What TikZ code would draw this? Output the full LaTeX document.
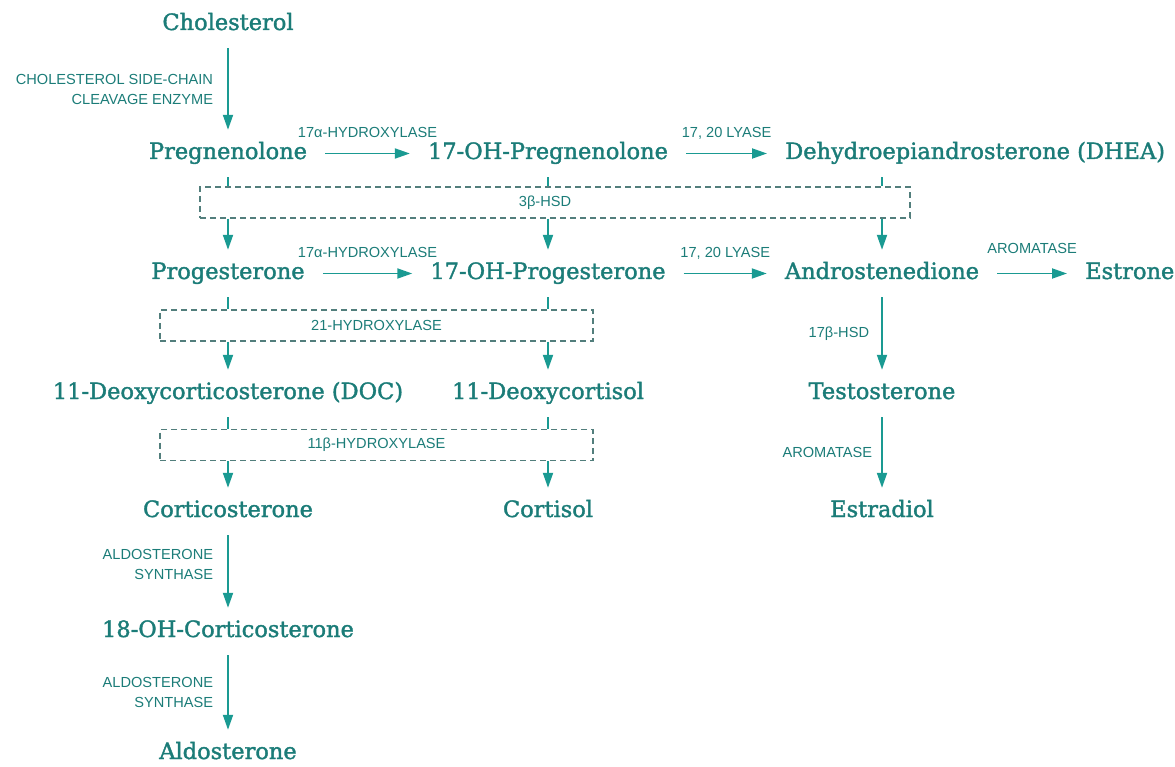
\documentclass[tikz,border=0pt]{standalone}
\usepackage{fontspec}
\setmainfont{DejaVu Serif}[BoldFont={DejaVu Serif}, BoldFeatures={FakeBold=1.6}]
\newfontfamily\labfont{Liberation Sans}
\usetikzlibrary{arrows.meta}
\definecolor{tealtext}{HTML}{1B7C78}
\definecolor{tealarrow}{HTML}{1A9A92}
\definecolor{boxgray}{HTML}{527E7C}
\begin{document}
\begin{tikzpicture}[x=1pt,y=-1pt,
  comp/.style={font=\bfseries\fontsize{22.5}{26}\selectfont, text=tealtext, anchor=base,
    text height=16pt, text depth=5pt, inner ysep=13pt, inner xsep=18pt},
  enz/.style={font=\labfont\fontsize{14.6}{20}\selectfont, text=tealtext, inner sep=0pt},
  conv/.style={draw=tealarrow, line width=1.9pt, -{Triangle[length=15pt,width=10pt]}},
  stub/.style={draw=tealarrow, line width=1.9pt},
  enzbox/.style={draw=boxgray, line width=1.4pt, dash pattern=on 6pt off 4pt,
    inner sep=0pt, minimum height=31pt, font=\labfont\fontsize{14.6}{16}\selectfont, text=tealtext}
]
\useasboundingbox (0,0) rectangle (1175,767);

% compounds
\node[comp] (chol) at (228,30) {Cholesterol};
\node[comp] (preg) at (228,159) {Pregnenolone};
\node[comp] (ohpreg) at (548,159) {17-OH-Pregnenolone};
\node[comp, anchor=base west] (dhea) at (767,159) {Dehydroepiandrosterone (DHEA)};
\node[comp] (prog) at (228,279) {Progesterone};
\node[comp] (ohprog) at (548,279) {17-OH-Progesterone};
\node[comp] (andro) at (882,279) {Androstenedione};
\node[comp, anchor=base west] (estrone) at (1067,279) {Estrone};
\node[comp] (doc) at (228,399) {11-Deoxycorticosterone (DOC)};
\node[comp] (deoxc) at (548,399) {11-Deoxycortisol};
\node[comp] (testo) at (882,399) {Testosterone};
\node[comp] (cortico) at (228,517) {Corticosterone};
\node[comp] (cortisol) at (548,517) {Cortisol};
\node[comp] (estradiol) at (882,517) {Estradiol};
\node[comp] (ohcort) at (228,637) {18-OH-Corticosterone};
\node[comp] (aldo) at (228,759) {Aldosterone};

% enzyme boxes
\node[enzbox, minimum width=710pt] (hsd) at (555,202.5) {};
\node[enz] (hsdlab) at (545,203) {3β-HSD};
\node[enzbox, minimum width=433pt] (hyd21) at (376.5,325.5) {21-HYDROXYLASE};
\node[enzbox, minimum width=433pt] (hyd11) at (376.5,445) {11β-HYDROXYLASE};

% left column
\draw[conv] (chol.south) -- node[enz, left=14pt, align=right] {CHOLESTEROL SIDE-CHAIN\\CLEAVAGE ENZYME} (chol.south |- preg.north);
\draw[stub] (preg.south) -- (preg.south |- hsd.north);
\draw[conv] (hsd.south -| prog.north) -- (prog.north);
\draw[stub] (prog.south) -- (prog.south |- hyd21.north);
\draw[conv] (hyd21.south -| doc.north) -- (doc.north);
\draw[stub] (doc.south) -- (doc.south |- hyd11.north);
\draw[conv] (hyd11.south -| cortico.north) -- (cortico.north);
\draw[conv] (cortico.south) -- node[enz, left=14pt, align=right, pos=0.4] {ALDOSTERONE\\SYNTHASE} (cortico.south |- ohcort.north);
\draw[conv] (ohcort.south) -- node[enz, left=14pt, align=right] {ALDOSTERONE\\SYNTHASE} (ohcort.south |- aldo.north);

% middle column
\draw[stub] (ohpreg.south) -- (ohpreg.south |- hsd.north);
\draw[conv] (hsd.south -| ohprog.north) -- (ohprog.north);
\draw[stub] (ohprog.south) -- (ohprog.south |- hyd21.north);
\draw[conv] (hyd21.south -| deoxc.north) -- (deoxc.north);
\draw[stub] (deoxc.south) -- (deoxc.south |- hyd11.north);
\draw[conv] (hyd11.south -| cortisol.north) -- (cortisol.north);

% right column
\draw[stub] (dhea.south -| andro.north) -- (hsd.north -| andro.north);
\draw[conv] (hsd.south -| andro.north) -- (andro.north);
\draw[conv] (andro.south) -- node[enz, left=12pt] {17β-HSD} (andro.south |- testo.north);
\draw[conv] (testo.south) -- node[enz, left=9pt] {AROMATASE} (testo.south |- estradiol.north);

% horizontal
\draw[conv] (preg.east) -- node[enz, above=15pt, text depth=0pt] {17α-HYDROXYLASE} (ohpreg.west);
\draw[conv] (ohpreg.east) -- node[enz, above=15pt, text depth=0pt] {17, 20 LYASE} (ohpreg.east -| dhea.west);
\draw[conv] (prog.east) -- node[enz, above=15pt, text depth=0pt] {17α-HYDROXYLASE} (ohprog.west);
\draw[conv] (ohprog.east) -- node[enz, above=15pt, text depth=0pt] {17, 20 LYASE} (andro.west);
\draw[conv] (andro.east) -- node[enz, above=19pt, text depth=0pt] {AROMATASE} (estrone.west);
\end{tikzpicture}
\end{document}
